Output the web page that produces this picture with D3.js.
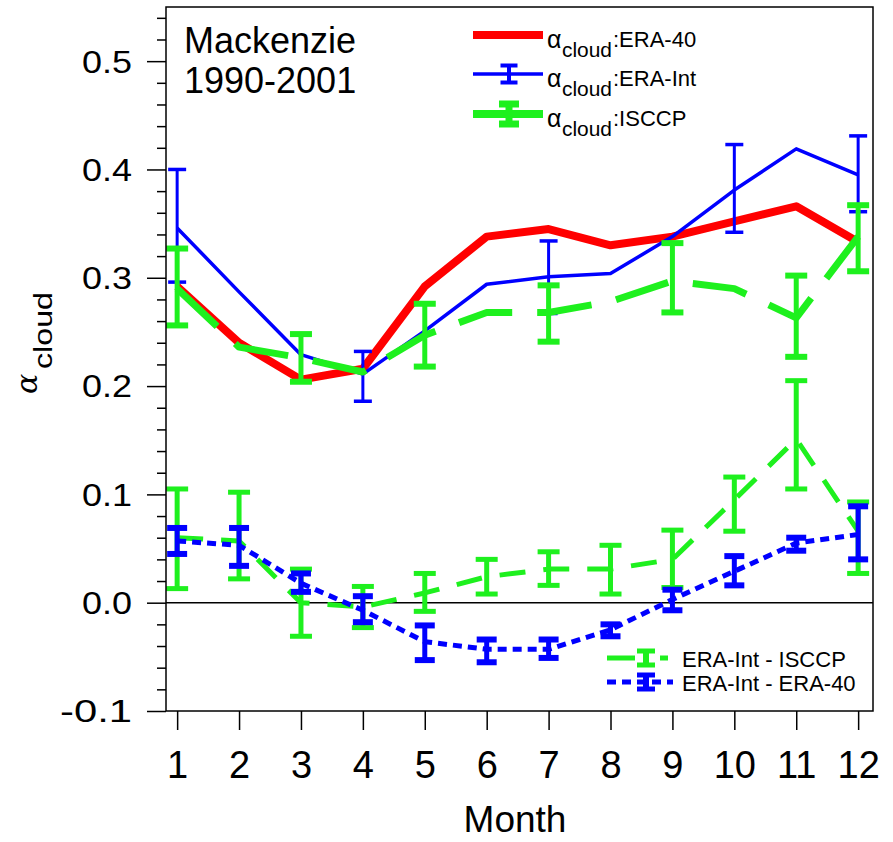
<!DOCTYPE html>
<html>
<head>
<meta charset="utf-8">
<script src="https://cdn.jsdelivr.net/npm/d3@7"></script>
<style>
body { margin: 0; background: #fff; }
svg { display: block; font-family: "Liberation Sans", Arial, sans-serif; }
</style>
</head>
<body>
<svg id="chart" width="893" height="842"></svg>
<script>
// months and y ticks
const months = [1, 2, 3, 4, 5, 6, 7, 8, 9, 10, 11, 12]
const yMajor = [-0.1, 0.0, 0.1, 0.2, 0.3, 0.4, 0.5]
const yMinor = d3.range(-0.1, 0.5501, 0.02).map(v => +v.toFixed(2)).filter(v => !yMajor.some(m => Math.abs(m - v) < 1e-6))

// alpha_cloud, ERA-40
const era40 = [0.292, 0.240, 0.206, 0.216, 0.292, 0.338, 0.345, 0.330, 0.338, 0.352, 0.366, 0.333]
// alpha_cloud, ERA-Interim (error bars only on some months)
const eraInt = [0.346, 0.287, 0.229, 0.211, 0.251, 0.294, 0.301, 0.304, 0.338, 0.381, 0.419, 0.395]
const eraIntLo = [0.296, null, null, 0.186, null, null, 0.267, null, null, 0.342, null, 0.361]
const eraIntHi = [0.400, null, null, 0.232, null, null, 0.334, null, null, 0.423, null, 0.431]
// alpha_cloud, ISCCP
const isccp = [0.290, 0.236, 0.226, 0.213, 0.247, 0.268, 0.268, 0.278, 0.297, 0.290, 0.263, 0.338]
const isccpLo = [0.256, null, 0.204, null, 0.218, null, 0.241, null, 0.268, null, 0.227, 0.306]
const isccpHi = [0.327, null, 0.248, null, 0.276, null, 0.293, null, 0.332, null, 0.302, 0.367]
// ERA-Int minus ISCCP
const diffIsccp = [0.060, 0.057, 0.000, -0.004, 0.009, 0.024, 0.031, 0.031, 0.040, 0.095, 0.151, 0.066]
const diffIsccpLo = [0.013, 0.022, -0.031, -0.023, -0.008, 0.008, 0.016, 0.008, 0.014, 0.066, 0.105, 0.027]
const diffIsccpHi = [0.105, 0.102, 0.031, 0.015, 0.027, 0.040, 0.047, 0.053, 0.067, 0.116, 0.205, 0.093]
// ERA-Int minus ERA-40
const diffEra40 = [0.057, 0.053, 0.018, -0.007, -0.036, -0.043, -0.043, -0.025, 0.003, 0.029, 0.055, 0.063]
const diffEra40Lo = [0.045, 0.034, 0.010, -0.018, -0.053, -0.055, -0.051, -0.031, -0.007, 0.016, 0.048, 0.040]
const diffEra40Hi = [0.069, 0.069, 0.027, 0.006, -0.021, -0.034, -0.034, -0.020, 0.012, 0.043, 0.060, 0.089]

const RED = "#ff0000", BLUE = "#0000ff", GREEN = "#1ef01e"

const svg = d3.select("#chart")
svg.append("rect").attr("width", 893).attr("height", 842).attr("fill", "#fff")

const x = d3.scaleLinear().domain([0.82, 12.24]).range([166, 873])
const y = d3.scaleLinear().domain([-0.1, 0.55]).range([711, 7])

const line = d3.line().x((d, i) => x(months[i])).y(d => y(d))

// series line
const drawLine = (vals, color, width, dash) => {
  svg.append("path")
    .datum(vals)
    .attr("d", line)
    .attr("fill", "none")
    .attr("stroke", color)
    .attr("stroke-width", width)
    .attr("stroke-linejoin", "round")
    .attr("stroke-dasharray", dash || null)
}

// error bars with caps
const drawErr = (lo, hi, color, width, capW, capStroke) => {
  const data = months.map((m, i) => ({ m, lo: lo[i], hi: hi[i] })).filter(d => d.lo != null)
  const g = svg.append("g").attr("stroke", color).attr("fill", "none")
  g.selectAll("line.v").data(data).join("line").attr("class", "v")
    .attr("x1", d => x(d.m)).attr("x2", d => x(d.m))
    .attr("y1", d => y(d.lo)).attr("y2", d => y(d.hi))
    .attr("stroke-width", width)
  const caps = data.flatMap(d => [{ m: d.m, v: d.lo }, { m: d.m, v: d.hi }])
  g.selectAll("line.c").data(caps).join("line").attr("class", "c")
    .attr("x1", d => x(d.m) - capW / 2).attr("x2", d => x(d.m) + capW / 2)
    .attr("y1", d => y(d.v)).attr("y2", d => y(d.v))
    .attr("stroke-width", capStroke)
}

// zero line
svg.append("line")
  .attr("x1", x.range()[0]).attr("x2", x.range()[1])
  .attr("y1", y(0)).attr("y2", y(0))
  .attr("stroke", "#000").attr("stroke-width", 1.5)

drawLine(era40, RED, 8)
drawLine(eraInt, BLUE, 3.5)
drawErr(eraIntLo, eraIntHi, BLUE, 3, 18, 3.5)
drawLine(isccp, GREEN, 7, "55,25")
drawErr(isccpLo, isccpHi, GREEN, 5, 22, 6)
drawLine(diffIsccp, GREEN, 5, "26,18")
drawErr(diffIsccpLo, diffIsccpHi, GREEN, 5, 22, 5)
drawLine(diffEra40, BLUE, 5, "9,6")
drawErr(diffEra40Lo, diffEra40Hi, BLUE, 5, 20, 6)

// frame
svg.append("rect")
  .attr("x", 166).attr("y", 7).attr("width", 873 - 166).attr("height", 711 - 7)
  .attr("fill", "none").attr("stroke", "#000").attr("stroke-width", 1.5)

// y axis
const yAx = svg.append("g").attr("transform", "translate(166,0)")
  .call(d3.axisLeft(y).tickValues(yMajor).tickSize(19).tickPadding(15).tickFormat(d => d.toFixed(1)))
yAx.attr("font-size", null).attr("font-family", null)
yAx.select(".domain").remove()
yAx.selectAll("line").attr("stroke-width", 1.5)
yAx.selectAll("text").attr("font-size", 32).attr("fill", "#000").attr("dy", "0.34em")
  .attr("textLength", d => d < 0 ? 72 : 50).attr("lengthAdjust", "spacingAndGlyphs")

const yMin = svg.append("g").attr("transform", "translate(166,0)")
  .call(d3.axisLeft(y).tickValues(yMinor).tickSize(9).tickFormat(""))
yMin.select(".domain").remove()
yMin.selectAll("line").attr("stroke-width", 1.5)

// x axis
const xAx = svg.append("g").attr("transform", "translate(0,711)")
  .call(d3.axisBottom(x).tickValues(months).tickSize(19).tickPadding(21).tickFormat(d3.format("d")))
xAx.attr("font-size", null).attr("font-family", null)
xAx.select(".domain").remove()
xAx.selectAll("line").attr("stroke-width", 1.5)
xAx.selectAll("text").attr("font-size", 38).attr("fill", "#000")

svg.append("text").attr("x", 515).attr("y", 832).attr("text-anchor", "middle")
  .attr("font-size", 37).text("Month")

// y label: alpha_cloud rotated
const yl = svg.append("g").attr("transform", "translate(37,342) rotate(-90)")
yl.append("text").attr("x", -52).attr("y", 0)
  .attr("font-family", "DejaVu Serif, serif").attr("font-style", "italic")
  .attr("font-size", 30).text("α")
yl.append("text").attr("x", -27).attr("y", 15)
  .attr("font-size", 25).attr("textLength", 77).attr("lengthAdjust", "spacingAndGlyphs").text("cloud")

// region title
svg.append("text").attr("x", 184).attr("y", 53).attr("font-size", 36).text("Mackenzie")
svg.append("text").attr("x", 184).attr("y", 93).attr("font-size", 36).text("1990-2001")

// upper legend
const legTop = [
  { name: ":ERA-40", color: RED, y: 35, w: 8, err: null },
  { name: ":ERA-Int", color: BLUE, y: 74, w: 3.5, err: { h: 8.5, cap: 17, cs: 4 } },
  { name: ":ISCCP", color: GREEN, y: 114, w: 8, err: { h: 10, cap: 20, cs: 7 } }
]
legTop.forEach(r => {
  const g = svg.append("g")
  g.append("line").attr("x1", 473).attr("x2", 543).attr("y1", r.y).attr("y2", r.y)
    .attr("stroke", r.color).attr("stroke-width", r.w)
  if (r.err) {
    g.append("line").attr("x1", 509).attr("x2", 509).attr("y1", r.y - r.err.h).attr("y2", r.y + r.err.h)
      .attr("stroke", r.color).attr("stroke-width", r.err.cs)
    ;[-r.err.h, r.err.h].forEach(o => g.append("line")
      .attr("x1", 509 - r.err.cap / 2).attr("x2", 509 + r.err.cap / 2)
      .attr("y1", r.y + o).attr("y2", r.y + o)
      .attr("stroke", r.color).attr("stroke-width", r.err.cs))
  }
  g.append("text").attr("x", 547).attr("y", r.y + 13).attr("font-size", 25).text("α")
  g.append("text").attr("x", 562).attr("y", r.y + 22).attr("font-size", 21)
    .attr("textLength", 50).attr("lengthAdjust", "spacingAndGlyphs").text("cloud")
  g.append("text").attr("x", 613).attr("y", r.y + 12).attr("font-size", 22).text(r.name)
})

// lower legend
const legBot = [
  { name: "ERA-Int - ISCCP", color: GREEN, y: 658, dash: "28,12,0,13,8,100", w: 5 },
  { name: "ERA-Int - ERA-40", color: BLUE, y: 682, dash: "9,6", w: 5 }
]
legBot.forEach(r => {
  const g = svg.append("g")
  g.append("line").attr("x1", 607).attr("x2", 673).attr("y1", r.y).attr("y2", r.y)
    .attr("stroke", r.color).attr("stroke-width", r.w).attr("stroke-dasharray", r.dash)
  g.append("line").attr("x1", 646).attr("x2", 646).attr("y1", r.y - 7).attr("y2", r.y + 7)
    .attr("stroke", r.color).attr("stroke-width", 6)
  ;[-7, 7].forEach(o => g.append("line").attr("x1", 637).attr("x2", 655)
    .attr("y1", r.y + o).attr("y2", r.y + o).attr("stroke", r.color).attr("stroke-width", 5))
  g.append("text").attr("x", 682).attr("y", r.y + 9).attr("font-size", 22).text(r.name)
})
</script>
</body>
</html>
